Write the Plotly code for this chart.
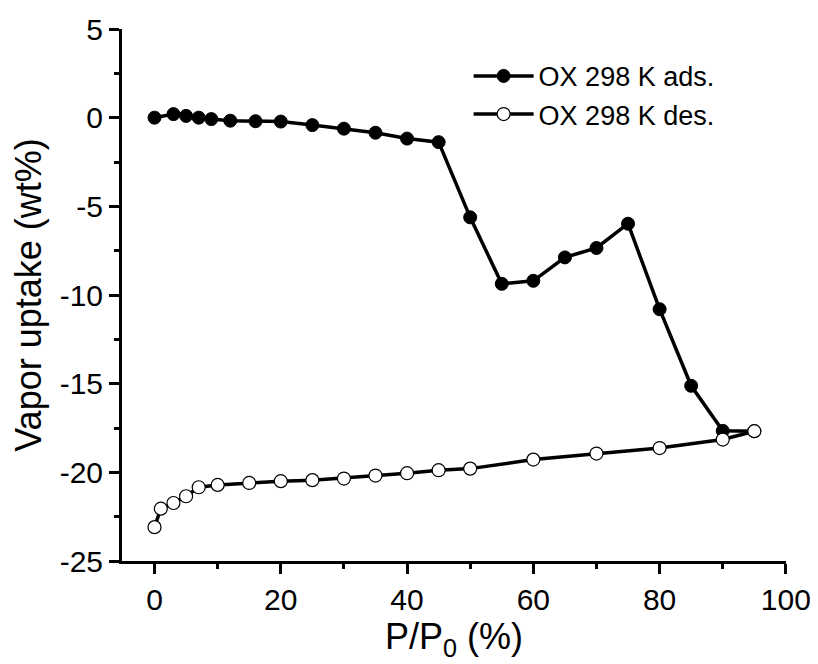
import plotly.graph_objects as go

# Adsorption branch
ads_x = [0, 3, 5, 7, 9, 12, 16, 20, 25, 30, 35, 40, 45, 50, 55, 60, 65, 70, 75, 80, 85, 90, 95]
ads_y = [0.0, 0.2, 0.1, 0.0, -0.08, -0.17, -0.2, -0.22, -0.42, -0.62, -0.85, -1.18, -1.38,
         -5.62, -9.37, -9.2, -7.88, -7.35, -5.98, -10.8, -15.12, -17.66, -17.68]

# Desorption branch
des_x = [95, 90, 80, 70, 60, 50, 45, 40, 35, 30, 25, 20, 15, 10, 7, 5, 3, 1, 0]
des_y = [-17.68, -18.15, -18.63, -18.94, -19.28, -19.79, -19.88, -20.05, -20.18, -20.35,
         -20.44, -20.5, -20.6, -20.71, -20.84, -21.35, -21.73, -22.05, -23.09]

# Tick labels
x_tickvals = [0, 20, 40, 60, 80, 100]
x_ticktext = ["0", "20", "40", "60", "80", "100"]
x_minorvals = [10, 30, 50, 70, 90]
y_tickvals = [-25, -20, -15, -10, -5, 0, 5]
y_ticktext = ["-25", "-20", "-15", "-10", "-5", "0", "5"]
y_minorvals = [-22.5, -17.5, -12.5, -7.5, -2.5, 2.5]

FONT = "Liberation Sans, Arial, sans-serif"

fig = go.Figure()
fig.add_trace(go.Scatter(
    x=ads_x, y=ads_y, mode="lines+markers", name="OX 298 K ads.",
    line=dict(color="black", width=3.5),
    marker=dict(symbol="circle", size=13, color="black", line=dict(color="black", width=1)),
))
fig.add_trace(go.Scatter(
    x=des_x, y=des_y, mode="lines+markers", name="OX 298 K des.",
    line=dict(color="black", width=3.5),
    marker=dict(symbol="circle", size=13, color="white", line=dict(color="black", width=1.2)),
))

axis_common = dict(
    showline=True, linecolor="black", linewidth=3, mirror=False,
    showgrid=False, zeroline=False,
    ticks="outside", ticklen=10, tickwidth=3, tickcolor="black",
    tickfont=dict(family=FONT, size=30, color="black"),
    tickmode="array",
)

fig.update_xaxes(
    range=[-5.15, 100.02], tickvals=x_tickvals, ticktext=x_ticktext,
    minor=dict(ticks="outside", ticklen=5, tickwidth=3, tickcolor="black",
               tickmode="array", tickvals=x_minorvals),
    title=dict(text="P/P<sub>0</sub> (%)", font=dict(family=FONT, size=36, color="black"), standoff=2),
    **axis_common,
)
fig.update_yaxes(
    range=[-25, 5], tickvals=y_tickvals, ticktext=y_ticktext,
    minor=dict(ticks="outside", ticklen=5, tickwidth=3, tickcolor="black",
               tickmode="array", tickvals=y_minorvals),
    title=dict(text="Vapor uptake (wt%)", font=dict(family=FONT, size=36, color="black"), standoff=10),
    **axis_common,
)

# page body adds an 8px margin; size the figure so the plot area lands where the reference has it
fig.update_layout(
    width=810, height=656,
    margin=dict(l=114, r=32, t=21, b=103, autoexpand=False),
    plot_bgcolor="white", paper_bgcolor="white",
    showlegend=True,
    legend=dict(
        x=0.522, y=0.957, xanchor="left", yanchor="top",
        font=dict(family=FONT, size=27, color="black"),
        bgcolor="rgba(0,0,0,0)", itemwidth=60, tracegroupgap=0,
    ),
)

fig.write_html("out.html")
